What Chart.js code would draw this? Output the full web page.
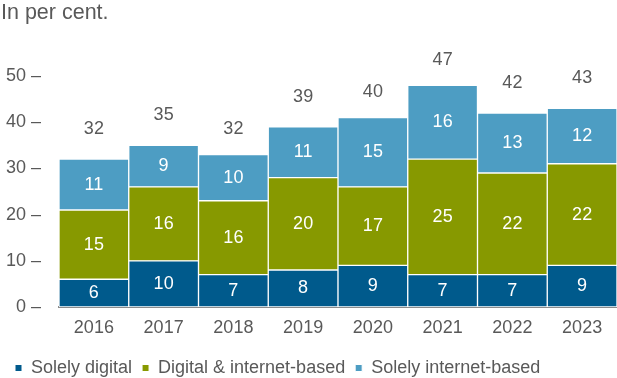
<!DOCTYPE html>
<html>
<head>
<meta charset="utf-8">
<script src="https://cdn.jsdelivr.net/npm/chart.js@4.4.1/dist/chart.umd.min.js"></script>
<style>
  html, body { margin: 0; padding: 0; background: #fff; }
  #wrap { width: 617px; height: 378px; position: relative; }
</style>
</head>
<body>
<div id="wrap"><canvas id="c"></canvas></div>
<script>
const years = ['2016', '2017', '2018', '2019', '2020', '2021', '2022', '2023'];
const solelyDigital = [6, 10, 7, 8, 9, 7, 7, 9];
const digitalInternet = [15, 16, 16, 20, 17, 25, 22, 22];
const solelyInternet = [11, 9, 10, 11, 15, 16, 13, 12];
const totals = [32, 35, 32, 39, 40, 47, 42, 43];
const yTicks = [0, 10, 20, 30, 40, 50];

const FONT = '"Liberation Sans", Arial, sans-serif';
const GREY = '#595959';

// Unit caption, white segment values and the totals above each stack
const annotate = {
  id: 'annotate',
  afterLayout(chart) {
    // sit the legend row lower, closer to the bottom edge
    const lg = chart.legend;
    if (lg) { lg.top += 9; lg.bottom += 9; }
  },
  afterDraw(chart) {
    const ctx = chart.ctx;
    ctx.save();
    ctx.font = '21.5px ' + FONT;
    ctx.fillStyle = GREY;
    ctx.textAlign = 'left';
    ctx.textBaseline = 'alphabetic';
    ctx.fillText('In per cent.', 1, 19);

    ctx.font = '18px ' + FONT;
    ctx.textAlign = 'center';
    ctx.textBaseline = 'middle';
    ctx.fillStyle = '#ffffff';
    chart.data.datasets.forEach((ds, di) => {
      chart.getDatasetMeta(di).data.forEach((bar, i) => {
        const y = (bar.y + bar.base) / 2;
        ctx.fillText(String(ds.data[i]), bar.x, y);
      });
    });

    ctx.fillStyle = GREY;
    const yScale = chart.scales.y;
    const topMeta = chart.getDatasetMeta(chart.data.datasets.length - 1);
    totals.forEach((t, i) => {
      const x = topMeta.data[i].x;
      ctx.fillText(String(t), x, yScale.getPixelForValue(t) - 30);
    });
    ctx.restore();
  }
};

new Chart(document.getElementById('c'), {
  type: 'bar',
  data: {
    labels: years,
    datasets: [
      { label: 'Solely digital', data: solelyDigital, backgroundColor: '#005a8c' },
      { label: 'Digital & internet-based', data: digitalInternet, backgroundColor: '#879900' },
      { label: 'Solely internet-based', data: solelyInternet, backgroundColor: '#4d9dc3' }
    ].map(d => Object.assign(d, {
      borderColor: '#ffffff', borderWidth: 1, borderSkipped: false,
      barPercentage: 1, categoryPercentage: 1
    }))
  },
  options: {
    responsive: true,
    maintainAspectRatio: false,
    animation: false,
    layout: { padding: { top: 76, right: 0, left: 5, bottom: 0 } },
    plugins: {
      legend: {
        position: 'bottom',
        align: 'start',
        labels: {
          boxWidth: 7, boxHeight: 7, padding: 10,
          color: GREY, font: { family: FONT, size: 18 }
        }
      },
      tooltip: { enabled: false },
      title: { display: false }
    },
    scales: {
      x: {
        stacked: true,
        afterFit(scale) { scale.height = 33; },
        grid: { display: false, drawTicks: false },
        border: { display: true, color: '#8c8c8c', width: 2 },
        ticks: { color: GREY, font: { family: FONT, size: 18 }, padding: 10 }
      },
      y: {
        stacked: true,
        min: 0, max: 50,
        afterBuildTicks(scale) { scale.ticks = yTicks.map(v => ({ value: v })); },
        afterFit(scale) { scale.width = 54; },
        grid: { display: false, drawTicks: false },
        border: { display: false },
        ticks: {
          color: GREY, font: { family: FONT, size: 18 }, padding: 18,
          callback: v => v + ' \u2013'
        }
      }
    }
  },
  plugins: [annotate]
});
</script>
</body>
</html>
